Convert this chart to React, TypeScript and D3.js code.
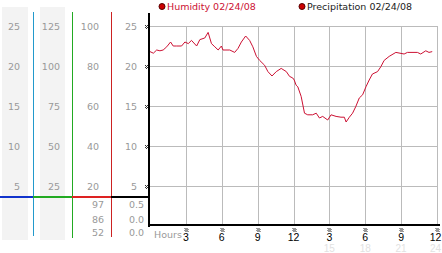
import React from "react";
import * as d3 from "d3";

const hours = [0, 0.28, 0.56, 0.83, 1.1, 1.4, 1.72, 1.94, 2.2, 2.64, 2.92, 3.2, 3.47, 3.9, 4.17, 4.58, 4.86, 5.14, 5.42, 5.7, 5.97, 6.1, 6.67, 7.08, 7.36, 7.64, 8.0, 8.33, 8.6, 8.9, 9.17, 9.58, 9.86, 10.2, 10.56, 10.97, 11.4, 11.67, 11.94, 12.06, 12.22, 12.36, 12.64, 12.92, 13.19, 13.6, 13.9, 14.17, 14.44, 14.86, 15.14, 15.56, 15.97, 16.25, 16.4, 16.67, 16.94, 17.2, 17.5, 17.78, 18.06, 18.33, 18.6, 19.03, 19.3, 19.58, 20.0, 20.56, 21.25, 21.53, 22.36, 22.64, 23.06, 23.33, 23.6];
const humidity = [21.8, 21.6, 22.0, 21.9, 22.0, 22.4, 23.0, 22.5, 22.5, 22.5, 23.0, 22.8, 23.2, 22.5, 23.3, 23.5, 24.2, 22.8, 22.4, 22.0, 22.5, 22.0, 22.0, 21.7, 22.2, 23.0, 23.75, 23.2, 22.4, 21.2, 20.7, 20.1, 19.3, 18.75, 19.3, 19.7, 19.3, 18.7, 18.5, 18.25, 17.6, 17.4, 16.2, 14.1, 13.9, 13.9, 14.1, 13.5, 13.7, 13.25, 13.9, 13.7, 13.6, 13.6, 13.0, 13.6, 14.1, 14.9, 16.0, 16.4, 17.4, 18.25, 19.0, 19.3, 19.9, 20.7, 21.2, 21.7, 21.5, 21.7, 21.7, 21.5, 21.9, 21.7, 21.8];

const col1Ticks = ["25", "20", "15", "10", "5"];
const col2Ticks = ["125", "100", "75", "50", "25"];
const col3Ticks = ["100", "80", "60", "40", "20"];
const col4Ticks = ["25", "20", "15", "10", "5"];
const tickValues = [25, 20, 15, 10, 5];
const col3Readings = ["97", "86", "52"];
const col4Readings = ["0.5", "0.0", "0.0"];
const hourTicks = [3, 6, 9, 12, 15, 18, 21, 24];
const hourLabels = ["3", "6", "9", "12", "3", "6", "9", "12"];
const hourLabels2 = ["", "", "", "", "15", "18", "21", "24"];
const legend1 = "Humidity 02/24/08";
const legend2 = "Precipitation 02/24/08";

const FONT = "DejaVu Sans, Verdana, sans-serif";
const GRAY = "#999";

function Marker({ x, y }: { x: number; y: number }) {
  const pts = [[0, 0], [2, 0], [1, 1], [3, 1], [0, 2], [2, 2], [1, 3], [3, 3]];
  return (
    <g>
      {pts.map(([dx, dy], i) => (
        <rect key={i} x={x + dx} y={y + dy} width={1} height={1} fill="#333" />
      ))}
    </g>
  );
}

export default function App() {
  const x = d3.scaleLinear().domain([0, 24]).range([150, 437]);
  const y = d3.scaleLinear().domain([0, 25]).range([226, 26]);
  const line = d3
    .line<number>()
    .x((_, i) => x(hours[i]))
    .y((d) => y(d));
  const readY = [204, 219, 232];
  const labelX = (h: number) => Math.min(x(h), 435.5);

  return (
    <svg
      width={442}
      height={253}
      style={{ position: "absolute", left: 0, top: 0, background: "#fff" }}
      fontFamily={FONT}
    >
      {/* left panel backgrounds */}
      <rect x={2} y={7} width={26} height={233} fill="#f3f3f3" />
      <rect x={40} y={7} width={25} height={233} fill="#f3f3f3" />
      {/* vertical separators */}
      <rect x={33} y={12} width={1} height={224} fill="#2299cc" />
      <rect x={72} y={12} width={1} height={226} fill="#22aa22" />
      <rect x={111} y={12} width={1} height={225} fill="#cc2222" />
      {/* horizontal colored bar */}
      <rect x={0} y={196} width={33} height={2} fill="#1133cc" />
      <rect x={33} y={196} width={39} height={2} fill="#22aa22" />
      <rect x={72} y={196} width={39} height={2} fill="#dd2222" />
      <rect x={111} y={196} width={38} height={2} fill="#000" />

      {/* column tick labels */}
      {tickValues.map((v, i) => (
        <g key={i} fontSize={9.5} fill={GRAY}>
          <text x={20} y={y(v) + 3.5} textAnchor="end">{col1Ticks[i]}</text>
          <text x={60} y={y(v) + 3.5} textAnchor="end">{col2Ticks[i]}</text>
          <text x={99} y={y(v) + 3.5} textAnchor="end">{col3Ticks[i]}</text>
          <text x={137} y={y(v) + 3.5} textAnchor="end">{col4Ticks[i]}</text>
        </g>
      ))}
      {col3Readings.map((t, i) => (
        <text key={"r3" + i} x={104} y={readY[i] + 3.5} fontSize={9.5} fill={GRAY} textAnchor="end">{t}</text>
      ))}
      {col4Readings.map((t, i) => (
        <text key={"r4" + i} x={144} y={readY[i] + 3.5} fontSize={9.5} fill={GRAY} textAnchor="end">{t}</text>
      ))}

      {/* grid */}
      {tickValues.map((v) => (
        <line key={"h" + v} x1={150} x2={437} y1={Math.round(y(v)) + 0.5} y2={Math.round(y(v)) + 0.5} stroke="#bbb" />
      ))}
      {hourTicks.map((h) => (
        <line key={"v" + h} x1={Math.round(x(h)) + 0.5} x2={Math.round(x(h)) + 0.5} y1={26} y2={225} stroke="#bbb" />
      ))}
      {tickValues.map((v) => (
        <Marker key={"m" + v} x={145} y={Math.round(y(v)) - 1} />
      ))}

      {/* axes */}
      <rect x={148} y={13} width={2} height={214} fill="#000" />
      <rect x={148} y={224} width={292} height={2} fill="#000" />

      {/* humidity line */}
      <path d={line(humidity) || ""} fill="none" stroke="#cc1133" strokeWidth={1} />

      {/* bottom labels */}
      <text x={154} y={238} fontSize={9.5} fill={GRAY}>Hours</text>
      {hourTicks.map((h, i) => (
        <g key={"t" + h}>
          <Marker x={Math.round(x(h)) - 1.5} y={228} />
          <text x={labelX(h)} y={241} fontSize={10.5} fontFamily="Liberation Sans, Arial, sans-serif" fill="#000" textAnchor="middle">{hourLabels[i]}</text>
          {hourLabels2[i] && (
            <text x={labelX(h)} y={252} fontSize={10} fontFamily="Liberation Sans, Arial, sans-serif" fill="#e2e2e2" textAnchor="middle">{hourLabels2[i]}</text>
          )}
        </g>
      ))}

      {/* legend */}
      <circle cx={162} cy={6.5} r={3} fill="#cc0000" stroke="#550000" strokeWidth={1} />
      <text x={167} y={10} fontSize={9.5} fill="#cc1133">{legend1}</text>
      <circle cx={302} cy={6.5} r={3} fill="#cc0000" stroke="#550000" strokeWidth={1} />
      <text x={307} y={10} fontSize={9.5} fill="#222">{legend2}</text>
    </svg>
  );
}
